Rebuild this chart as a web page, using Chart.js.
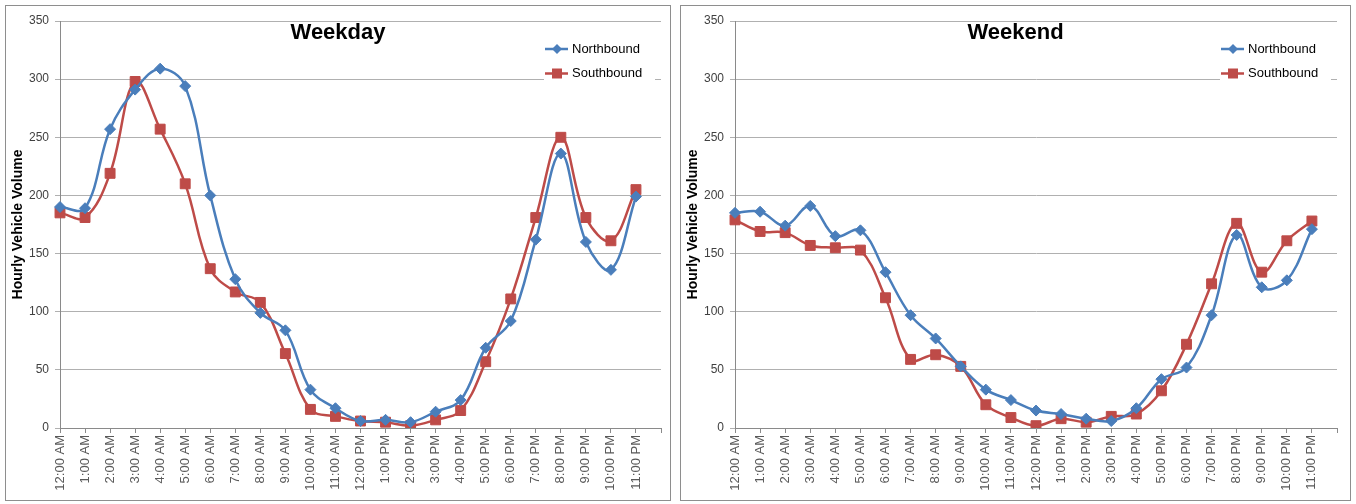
<!DOCTYPE html>
<html>
<head>
<meta charset="utf-8">
<title>Hourly Vehicle Volume</title>
<script src="https://cdn.jsdelivr.net/npm/chart.js@4.4.0/dist/chart.umd.min.js"></script>
<style>
body { margin: 0; background: #fff; width: 1356px; height: 504px; overflow: hidden; position: relative; }
.panel { position: absolute; top: 5px; height: 494px; border: 1px solid #8e8e8e; background: #fff; }
</style>
</head>
<body>
<div class="panel" style="left:5px;width:664px;"><canvas id="weekday"></canvas></div>
<div class="panel" style="left:680px;width:669px;"><canvas id="weekend"></canvas></div>
<script>
/* globals Chart: false */

var hours = [
    "12:00 AM", "1:00 AM", "2:00 AM", "3:00 AM", "4:00 AM", "5:00 AM",
    "6:00 AM", "7:00 AM", "8:00 AM", "9:00 AM", "10:00 AM", "11:00 AM",
    "12:00 PM", "1:00 PM", "2:00 PM", "3:00 PM", "4:00 PM", "5:00 PM",
    "6:00 PM", "7:00 PM", "8:00 PM", "9:00 PM", "10:00 PM", "11:00 PM"];

var weekdayNorth = [190, 189, 257, 291, 309, 294, 200, 128, 99, 84, 33, 17,
                    6, 7, 5, 14, 24, 69, 92, 162, 236, 160, 136, 199];
var weekdaySouth = [185, 181, 219, 298, 257, 210, 137, 117, 108, 64, 16, 10,
                    6, 5, 2, 7, 15, 57, 111, 181, 250, 181, 161, 205];

var weekendNorth = [185, 186, 174, 191, 165, 170, 134, 97, 77, 53, 33, 24,
                    15, 12, 8, 6, 17, 42, 52, 97, 166, 121, 127, 171];
var weekendSouth = [179, 169, 168, 157, 155, 153, 112, 59, 63, 53, 20, 9,
                    2, 8, 5, 10, 12, 32, 72, 124, 176, 134, 161, 178];

var yTicks = [0, 50, 100, 150, 200, 250, 300, 350];

var BLUE = "#4a7ebb";
var RED = "#be4b48";

Chart.defaults.font.family = '"Liberation Sans", Arial, sans-serif';

// title and the legend sit inside the plot, like the spreadsheet original
var panelText = {
    id: 'panelText',
    afterDatasetsDraw: function(chart, args, opts) {
        var ctx = chart.ctx;
        var area = chart.chartArea;
        ctx.save();
        ctx.font = 'bold 22px "Liberation Sans", Arial, sans-serif';
        ctx.fillStyle = '#000';
        ctx.textAlign = 'center';
        ctx.textBaseline = 'middle';
        ctx.fillText(opts.title, chart.width / 2, 27);

        var x0 = area.right - 116;
        ctx.fillStyle = '#fff';
        ctx.fillRect(x0 - 1, area.top + 14, 111, 52);

        ctx.font = '13px "Liberation Sans", Arial, sans-serif';
        ctx.textAlign = 'left';
        chart.data.datasets.forEach(function(ds, i) {
            var y = area.top + 28 + i * 24.5;
            var cx = x0 + 12;
            ctx.strokeStyle = ds.borderColor;
            ctx.lineWidth = 2.5;
            ctx.beginPath();
            ctx.moveTo(x0, y);
            ctx.lineTo(x0 + 23, y);
            ctx.stroke();
            ctx.fillStyle = ds.borderColor;
            ctx.beginPath();
            if (ds.pointStyle === 'rectRot') {
                ctx.moveTo(cx, y - 5);
                ctx.lineTo(cx + 5, y);
                ctx.lineTo(cx, y + 5);
                ctx.lineTo(cx - 5, y);
                ctx.closePath();
            } else {
                ctx.rect(cx - 5, y - 5, 10, 10);
            }
            ctx.fill();
            ctx.fillStyle = '#000';
            ctx.fillText(ds.label, x0 + 27, y);
        });
        ctx.restore();
    }
};

function makeChart(id, title, north, south, rightPad) {
    var ctx = document.getElementById(id).getContext("2d");
    return new Chart(ctx, {
        type: 'line',
        data: {
            labels: hours.concat([""]),
            datasets: [
                {
                    label: "Northbound",
                    data: north,
                    borderColor: BLUE,
                    backgroundColor: BLUE,
                    borderWidth: 2.5,
                    pointStyle: 'rectRot',
                    pointRadius: 5.5,
                    pointBorderWidth: 1,
                    tension: 0.38
                },
                {
                    label: "Southbound",
                    data: south,
                    borderColor: RED,
                    backgroundColor: RED,
                    borderWidth: 2.5,
                    pointStyle: 'rect',
                    pointRadius: 7,
                    pointBorderWidth: 1,
                    tension: 0.38
                }
            ]
        },
        options: {
            responsive: true,
            maintainAspectRatio: false,
            animation: false,
            layout: { padding: { left: 0, top: 15, right: rightPad, bottom: 0 } },
            plugins: {
                legend: { display: false },
                tooltip: { enabled: false },
                panelText: { title: title }
            },
            scales: {
                x: {
                    offset: false,
                    grid: { drawOnChartArea: false, tickLength: 5, color: '#8a8a8a' },
                    border: { color: '#8a8a8a' },
                    ticks: {
                        autoSkip: false,
                        maxRotation: 90,
                        minRotation: 90,
                        padding: 2,
                        color: '#595959',
                        font: { size: 13 }
                    },
                    afterFit: function(scale) {
                        scale.height = 72;
                        scale.paddingLeft = 0;
                        scale.paddingRight = 0;
                    }
                },
                y: {
                    min: 0,
                    max: 350,
                    afterBuildTicks: function(scale) {
                        scale.ticks = yTicks.map(function(v) { return { value: v }; });
                    },
                    grid: { color: '#b0b0b0', tickLength: 5 },
                    border: { color: '#8a8a8a' },
                    ticks: { color: '#404040', padding: 6, font: { size: 12 } },
                    title: {
                        display: true,
                        text: "Hourly Vehicle Volume",
                        color: '#000',
                        font: { size: 14, weight: 'bold' },
                        padding: { top: 4, bottom: 0 }
                    },
                    afterFit: function(scale) {
                        scale.width = 54;
                        scale.paddingTop = 0;
                        scale.paddingBottom = 0;
                    }
                }
            }
        },
        plugins: [panelText]
    });
}

makeChart("weekday", "Weekday", weekdayNorth, weekdaySouth, 9);
makeChart("weekend", "Weekend", weekendNorth, weekendSouth, 13);
</script>
</body>
</html>
